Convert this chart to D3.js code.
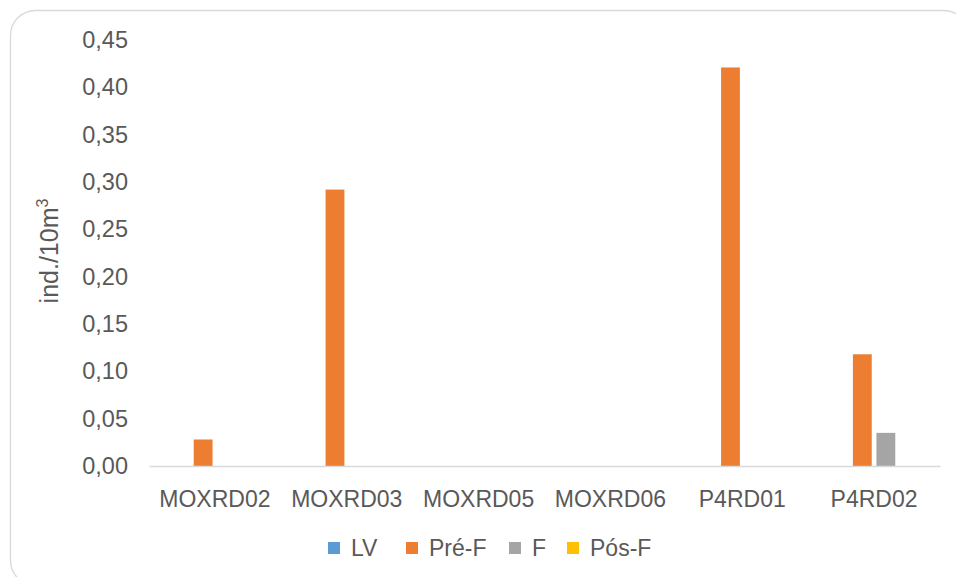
<!DOCTYPE html>
<html>
<head>
<meta charset="utf-8">
<script src="https://cdn.jsdelivr.net/npm/d3@7"></script>
<style>
  html, body { margin: 0; padding: 0; background: #ffffff; }
  svg { display: block; font-family: "Liberation Sans", Arial, sans-serif; }
</style>
</head>
<body>
<svg id="chart" width="956" height="577"></svg>
<script>
// Stations along the x axis
const categories = ["MOXRD02", "MOXRD03", "MOXRD05", "MOXRD06", "P4RD01", "P4RD02"];
// Series (period) names and their values, ind./10m³
const seriesNames = ["LV", "Pré-F", "F", "Pós-F"];
const valuesLV   = [0, 0, 0, 0, 0, 0];
const valuesPreF = [0.028, 0.292, 0, 0, 0.421, 0.118];
const valuesF    = [0, 0, 0, 0, 0, 0.035];
const valuesPosF = [0, 0, 0, 0, 0, 0];
const seriesColors = ["#5b9bd5", "#ed7d31", "#a5a5a5", "#ffc000"];
const yTicks = [0, 0.05, 0.10, 0.15, 0.20, 0.25, 0.30, 0.35, 0.40, 0.45];

const seriesValues = [valuesLV, valuesPreF, valuesF, valuesPosF];
const rows = categories.map((c, i) => ({
  category: c,
  values: seriesNames.map((s, k) => ({ series: s, value: seriesValues[k][i], color: seriesColors[k] }))
}));

const svg = d3.select("#chart");
const textColor = "#595959";
const fontSize = 23;

// Chart frame
svg.append("rect")
  .attr("x", 10.5).attr("y", 10.5)
  .attr("width", 958).attr("height", 575)
  .attr("rx", 25).attr("ry", 25)
  .attr("fill", "#ffffff")
  .attr("stroke", "#d9d9d9").attr("stroke-width", 1.3);

const plot = { left: 149, right: 940, top: 40, bottom: 466 };

const x0 = d3.scaleBand()
  .domain(categories)
  .range([plot.left, plot.right])
  .paddingInner(0).paddingOuter(0);

// Group of four bars occupies band / 1.4; bars separated by a small gap
const groupWidth = x0.bandwidth() / 1.4;
const x1 = d3.scaleBand()
  .domain(seriesNames)
  .range([(x0.bandwidth() - groupWidth) / 2, (x0.bandwidth() + groupWidth) / 2])
  .paddingInner(0.2).paddingOuter(0.1);

const y = d3.scaleLinear()
  .domain([0, 0.45])
  .range([plot.bottom, plot.top]);

const fmt = v => d3.format(".2f")(v).replace(".", ",");

// Y axis labels (no axis line, no gridlines)
const yAxis = d3.axisLeft(y).tickValues(yTicks).tickFormat(fmt).tickSize(0).tickPadding(0);
const yG = svg.append("g").attr("transform", `translate(128,0)`).call(yAxis);
yG.select(".domain").remove();
yG.selectAll("text")
  .attr("fill", textColor)
  .style("font-size", "23.5px")
  .style("font-family", "Liberation Sans, Arial, sans-serif");

// Bars
const groups = svg.append("g").selectAll("g")
  .data(rows)
  .join("g")
  .attr("transform", d => `translate(${x0(d.category)},0)`);

groups.selectAll("rect")
  .data(d => d.values.filter(v => v.value > 0))
  .join("rect")
  .attr("x", d => x1(d.series))
  .attr("width", x1.bandwidth())
  .attr("y", d => y(d.value))
  .attr("height", d => y(0) - y(d.value))
  .attr("fill", d => d.color);

// X axis
const xAxis = d3.axisBottom(x0).tickSize(0).tickPadding(25);
const xG = svg.append("g").attr("transform", `translate(0,${plot.bottom})`).call(xAxis);
xG.select(".domain")
  .attr("stroke", "#d9d9d9")
  .attr("stroke-width", 1.5);
xG.selectAll("text")
  .attr("fill", textColor)
  .style("font-size", fontSize + "px")
  .style("font-family", "Liberation Sans, Arial, sans-serif");

// Y axis title
svg.append("text")
  .attr("transform", `translate(58,251) rotate(-90)`)
  .attr("text-anchor", "middle")
  .attr("fill", textColor)
  .style("font-size", "25px")
  .text("ind./10m")
  .append("tspan")
  .attr("dy", -10)
  .style("font-size", "16px")
  .text("3");

// Legend
const legendItems = [
  { name: seriesNames[0], color: seriesColors[0], x: 328 },
  { name: seriesNames[1], color: seriesColors[1], x: 406 },
  { name: seriesNames[2], color: seriesColors[2], x: 509 },
  { name: seriesNames[3], color: seriesColors[3], x: 567 }
];
const lg = svg.append("g").selectAll("g")
  .data(legendItems)
  .join("g")
  .attr("transform", d => `translate(${d.x},542)`);
lg.append("rect")
  .attr("width", 12).attr("height", 12)
  .attr("fill", d => d.color);
lg.append("text")
  .attr("x", 23).attr("y", 6)
  .attr("dy", "0.35em")
  .attr("fill", textColor)
  .style("font-size", fontSize + "px")
  .text(d => d.name);
</script>
</body>
</html>
